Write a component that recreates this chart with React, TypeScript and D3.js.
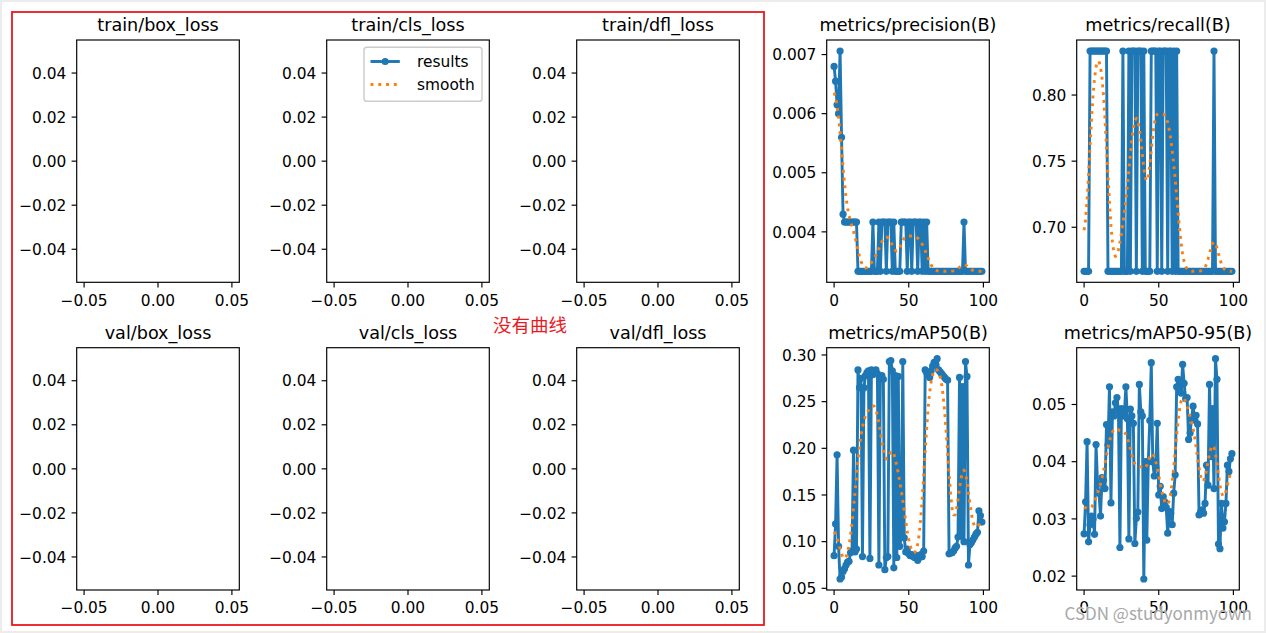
import React from 'react';
import * as d3 from 'd3';

// ---------------- data ----------------
const epochs: number[] = Array.from({ length: 100 }, (_, i) => i);

const precision: number[] = [
  0.0068, 0.00655, 0.00615, 0.0060, 0.00706, 0.0056, 0.0043, 0.004167, 0.004167, 0.004167,
  0.004167, 0.004167, 0.004167, 0.004167, 0.004167, 0.004167, 0.003333, 0.003333, 0.003333, 0.003333,
  0.003333, 0.003333, 0.003333, 0.003333, 0.003333, 0.003333, 0.004167, 0.003333, 0.003333, 0.003333,
  0.004167, 0.003333, 0.004167, 0.004167, 0.004167, 0.003333, 0.004167, 0.004167, 0.004167, 0.003333,
  0.004167, 0.003333, 0.003333, 0.003333, 0.003333, 0.004167, 0.004167, 0.004167, 0.004167, 0.003333,
  0.004167, 0.004167, 0.003333, 0.004167, 0.004167, 0.004167, 0.003333, 0.004167, 0.004167, 0.003333,
  0.004167, 0.003333, 0.004167, 0.003333, 0.003333, 0.003333, 0.003333, 0.003333, 0.003333, 0.003333,
  0.003333, 0.003333, 0.003333, 0.003333, 0.003333, 0.003333, 0.003333, 0.003333, 0.003333, 0.003333,
  0.003333, 0.003333, 0.003333, 0.003333, 0.003333, 0.003333, 0.003333, 0.004167, 0.003333, 0.003333,
  0.003333, 0.003333, 0.003333, 0.003333, 0.003333, 0.003333, 0.003333, 0.003333, 0.003333, 0.003333,
];

const recall: number[] = [
  0.6667, 0.6667, 0.6667, 0.6667, 0.8333, 0.8333, 0.8333, 0.8333, 0.8333, 0.8333,
  0.8333, 0.8333, 0.8333, 0.8333, 0.8333, 0.8333, 0.6667, 0.6667, 0.6667, 0.6667,
  0.6667, 0.6667, 0.6667, 0.6667, 0.6667, 0.6667, 0.8333, 0.6667, 0.6667, 0.6667,
  0.8333, 0.6667, 0.8333, 0.8333, 0.8333, 0.6667, 0.8333, 0.8333, 0.8333, 0.6667,
  0.8333, 0.6667, 0.6667, 0.6667, 0.6667, 0.8333, 0.8333, 0.8333, 0.8333, 0.6667,
  0.8333, 0.8333, 0.6667, 0.8333, 0.8333, 0.8333, 0.6667, 0.8333, 0.8333, 0.6667,
  0.8333, 0.6667, 0.8333, 0.6667, 0.6667, 0.6667, 0.6667, 0.6667, 0.6667, 0.6667,
  0.6667, 0.6667, 0.6667, 0.6667, 0.6667, 0.6667, 0.6667, 0.6667, 0.6667, 0.6667,
  0.6667, 0.6667, 0.6667, 0.6667, 0.6667, 0.6667, 0.6667, 0.8333, 0.6667, 0.6667,
  0.6667, 0.6667, 0.6667, 0.6667, 0.6667, 0.6667, 0.6667, 0.6667, 0.6667, 0.6667,
];

const mAP50: number[] = [
  0.085, 0.119, 0.193, 0.095, 0.060, 0.062, 0.068, 0.071, 0.075, 0.078,
  0.079, 0.088, 0.090, 0.198, 0.089, 0.092, 0.284, 0.265, 0.275, 0.084,
  0.265, 0.278, 0.281, 0.283, 0.082, 0.284, 0.279, 0.283, 0.284, 0.280,
  0.075, 0.276, 0.278, 0.274, 0.070, 0.083, 0.084, 0.293, 0.294, 0.283,
  0.072, 0.278, 0.083, 0.277, 0.095, 0.106, 0.293, 0.104, 0.089, 0.092,
  0.087, 0.085, 0.086, 0.084, 0.083, 0.085, 0.080, 0.083, 0.086, 0.084,
  0.090, 0.284, 0.281, 0.280, 0.276, 0.283, 0.288, 0.292, 0.290, 0.296,
  0.284, 0.282, 0.280, 0.278, 0.276, 0.274, 0.273, 0.087, 0.088, 0.088,
  0.090, 0.093, 0.095, 0.105, 0.276, 0.106, 0.266, 0.100, 0.293, 0.277,
  0.075, 0.097, 0.099, 0.102, 0.105, 0.108, 0.110, 0.133, 0.128, 0.121,
];

const mAP50_95: number[] = [
  0.0274, 0.0330, 0.0435, 0.0260, 0.0290, 0.0305, 0.0300, 0.0273, 0.0430, 0.0362,
  0.0345, 0.0305, 0.0372, 0.0368, 0.0353, 0.0465, 0.0429, 0.0531, 0.0328, 0.0487,
  0.0480, 0.0503, 0.0512, 0.0490, 0.0250, 0.0493, 0.0480, 0.0485, 0.0531, 0.0475,
  0.0265, 0.0492, 0.0480, 0.0467, 0.0257, 0.0301, 0.0312, 0.0535, 0.0487, 0.0480,
  0.0195, 0.0400, 0.0263, 0.0400, 0.0472, 0.0573, 0.0400, 0.0375, 0.0390, 0.0467,
  0.0342, 0.0357, 0.0318, 0.0339, 0.0330, 0.0320, 0.0275, 0.0313, 0.0310, 0.0290,
  0.0345, 0.0377, 0.0531, 0.0544, 0.0528, 0.0520, 0.0570, 0.0537, 0.0510, 0.0512,
  0.0439, 0.0450, 0.0475, 0.0497, 0.0473, 0.0481, 0.0466, 0.0307, 0.0312, 0.0316,
  0.0310, 0.0327, 0.0394, 0.0359, 0.0535, 0.0409, 0.0493, 0.0353, 0.0580, 0.0544,
  0.0256, 0.0248, 0.0327, 0.0284, 0.0295, 0.0327, 0.0394, 0.0383, 0.0405, 0.0414,
];

const titles: string[] = [
  'train/box_loss', 'train/cls_loss', 'train/dfl_loss', 'metrics/precision(B)', 'metrics/recall(B)',
  'val/box_loss', 'val/cls_loss', 'val/dfl_loss', 'metrics/mAP50(B)', 'metrics/mAP50-95(B)',
];

const emptyYTicks = [-0.04, -0.02, 0.0, 0.02, 0.04];
const emptyXTicks = [-0.05, 0.0, 0.05];
const epochXTicks = [0, 50, 100];
const precisionTicks = [0.004, 0.005, 0.006, 0.007];
const recallTicks = [0.7, 0.75, 0.8];
const mAP50Ticks = [0.05, 0.1, 0.15, 0.2, 0.25, 0.3];
const mAP5095Ticks = [0.02, 0.03, 0.04, 0.05];

const legendLabels = ['results', 'smooth'];

// ---------------- helpers ----------------
// scipy.ndimage.gaussian_filter1d (sigma, truncate=4, mode='reflect')
function gaussianFilter1d(y: number[], sigma: number): number[] {
  const r = Math.floor(4 * sigma + 0.5);
  const w: number[] = [];
  let s = 0;
  for (let k = -r; k <= r; k++) {
    const v = Math.exp(-0.5 * (k * k) / (sigma * sigma));
    w.push(v);
    s += v;
  }
  const n = y.length;
  const idx = (i: number) => {
    while (i < 0 || i >= n) {
      if (i < 0) i = -i - 1;
      if (i >= n) i = 2 * n - i - 1;
    }
    return i;
  };
  return y.map((_, i) => {
    let acc = 0;
    for (let k = -r; k <= r; k++) acc += (w[k + r] / s) * y[idx(i + k)];
    return acc;
  });
}

const fmt = (v: number, dec: number) => {
  const t = Math.abs(v) < 1e-12 ? (0).toFixed(dec) : v.toFixed(dec);
  return t.replace('-', '\u2212');
};

// ---------------- layout ----------------
const W = 1266;
const H = 633;
const colLeft = [76.7, 326.7, 576.7, 826.7, 1076.7];
const rowTop = [40, 347.7];
const PW = 162.6;
const PH = 242.3;
const FONT = 'DejaVu Sans, Verdana, sans-serif';
const TICK_FS = 15.4;
const BLUE = '#1f77b4';
const ORANGE = '#ff7f0e';
const LW = 1.17;

type PanelSpec = {
  title: string;
  data?: number[];
  yTicks: number[];
  yDec: number;
  legend?: boolean;
};

function Panel({ spec, x0, y0, id }: { spec: PanelSpec; x0: number; y0: number; id: string }) {
  const empty = !spec.data;
  let xDomain: [number, number] = [-0.055, 0.055];
  let yDomain: [number, number] = [-0.055, 0.055];
  if (!empty) {
    const [xmin, xmax] = d3.extent(epochs) as [number, number];
    const xr = xmax - xmin;
    xDomain = [xmin - 0.05 * xr, xmax + 0.05 * xr];
    const [ymin, ymax] = d3.extent(spec.data!) as [number, number];
    const yr = ymax - ymin;
    yDomain = [ymin - 0.05 * yr, ymax + 0.05 * yr];
  }
  const x = d3.scaleLinear().domain(xDomain).range([x0, x0 + PW]);
  const y = d3.scaleLinear().domain(yDomain).range([y0 + PH, y0]);
  const xTicks = empty ? emptyXTicks : epochXTicks;
  const xDec = empty ? 2 : 0;

  let resultPath = '';
  let smoothPath = '';
  let points: [number, number][] = [];
  if (!empty) {
    const line = d3
      .line<number>()
      .x((_, i) => x(epochs[i]))
      .y((d) => y(d));
    resultPath = line(spec.data!) || '';
    smoothPath = line(gaussianFilter1d(spec.data!, 3)) || '';
    points = spec.data!.map((d, i) => [x(epochs[i]), y(d)]);
  }

  const bottom = y0 + PH;
  return (
    <g>
      <defs>
        <clipPath id={id}>
          <rect x={x0} y={y0} width={PW} height={PH} />
        </clipPath>
      </defs>
      <rect x={x0} y={y0} width={PW} height={PH} fill="#fff" />
      {!empty && (
        <g clipPath={`url(#${id})`}>
          <path d={resultPath} fill="none" stroke={BLUE} strokeWidth={2.93} strokeLinejoin="round" />
          {points.map((p, i) => (
            <circle key={i} cx={p[0]} cy={p[1]} r={3.6} fill={BLUE} />
          ))}
          <path
            d={smoothPath}
            fill="none"
            stroke={ORANGE}
            strokeWidth={2.93}
            strokeDasharray="2.93 4.84"
            strokeLinejoin="round"
          />
        </g>
      )}
      <rect x={x0} y={y0} width={PW} height={PH} fill="none" stroke="#000" strokeWidth={LW} />
      {spec.yTicks.map((t) => (
        <g key={'y' + t}>
          <line x1={x0} x2={x0 - 5.1} y1={y(t)} y2={y(t)} stroke="#000" strokeWidth={LW} />
          <text x={x0 - 10.3} y={y(t) + 5.7} textAnchor="end" fontSize={TICK_FS} fontFamily={FONT} fill="#000">
            {fmt(t, spec.yDec)}
          </text>
        </g>
      ))}
      {xTicks.map((t) => (
        <g key={'x' + t}>
          <line x1={x(t)} x2={x(t)} y1={bottom} y2={bottom + 5.1} stroke="#000" strokeWidth={LW} />
          <text x={x(t)} y={bottom + 23.2} textAnchor="middle" fontSize={TICK_FS} fontFamily={FONT} fill="#000">
            {fmt(t, xDec)}
          </text>
        </g>
      ))}
      <text x={x0 + PW / 2} y={y0 - 9.2} textAnchor="middle" fontSize={17.6} fontFamily={FONT} fill="#000">
        {spec.title}
      </text>
      {spec.legend && <Legend right={x0 + PW - 7.3} top={y0 + 7.3} />}
    </g>
  );
}

function Legend({ right, top }: { right: number; top: number }) {
  const w = 118;
  const h = 54;
  const left = right - w;
  const rows = [top + 14.2, top + 37.2];
  return (
    <g>
      <rect x={left} y={top} width={w} height={h} rx={2.9} fill="#fff" fillOpacity={0.8} stroke="#ccc" strokeWidth={1.46} />
      <line x1={left + 6.5} x2={left + 35.8} y1={rows[0]} y2={rows[0]} stroke={BLUE} strokeWidth={2.93} />
      <circle cx={left + 21.2} cy={rows[0]} r={3.6} fill={BLUE} />
      <line
        x1={left + 6.5}
        x2={left + 35.8}
        y1={rows[1]}
        y2={rows[1]}
        stroke={ORANGE}
        strokeWidth={2.93}
        strokeDasharray="2.93 4.84"
      />
      {legendLabels.map((l, i) => (
        <text key={l} x={left + 53} y={rows[i] + 5.5} fontSize={TICK_FS} fontFamily={FONT} fill="#000">
          {l}
        </text>
      ))}
    </g>
  );
}

export default function App() {
  const specs: PanelSpec[] = [
    { title: titles[0], yTicks: emptyYTicks, yDec: 2 },
    { title: titles[1], yTicks: emptyYTicks, yDec: 2, legend: true },
    { title: titles[2], yTicks: emptyYTicks, yDec: 2 },
    { title: titles[3], data: precision, yTicks: precisionTicks, yDec: 3 },
    { title: titles[4], data: recall, yTicks: recallTicks, yDec: 2 },
    { title: titles[5], yTicks: emptyYTicks, yDec: 2 },
    { title: titles[6], yTicks: emptyYTicks, yDec: 2 },
    { title: titles[7], yTicks: emptyYTicks, yDec: 2 },
    { title: titles[8], data: mAP50, yTicks: mAP50Ticks, yDec: 2 },
    { title: titles[9], data: mAP50_95, yTicks: mAP5095Ticks, yDec: 2 },
  ];
  return (
    <svg
      width={W}
      height={H}
      viewBox={`0 0 ${W} ${H}`}
      style={{ position: 'absolute', left: 0, top: 0, background: '#fff' }}
    >
      <rect x={0} y={0} width={W} height={H} fill="#fff" />
      <rect x={1} y={1} width={W - 2} height={H - 2} fill="none" stroke="#ececec" strokeWidth={2} />
      {specs.map((s, i) => (
        <Panel key={i} spec={s} x0={colLeft[i % 5]} y0={rowTop[Math.floor(i / 5)]} id={`clip${i}`} />
      ))}
      <rect x={12} y={12} width={752} height={613} fill="none" stroke="#e8191f" strokeWidth={1.8} />
      <text x={493} y={332} fontSize={18.5} fontFamily="Noto Sans CJK SC, sans-serif" fill="#e8191f">
        没有曲线
      </text>
      <text
        x={1252}
        y={620}
        textAnchor="end"
        fontSize={17}
        fontFamily="Noto Sans CJK SC, sans-serif"
        fill="#a8a8a8"
        stroke="#fff"
        strokeWidth={0.6}
        paintOrder="stroke"
      >
        CSDN @studyonmyown
      </text>
    </svg>
  );
}
